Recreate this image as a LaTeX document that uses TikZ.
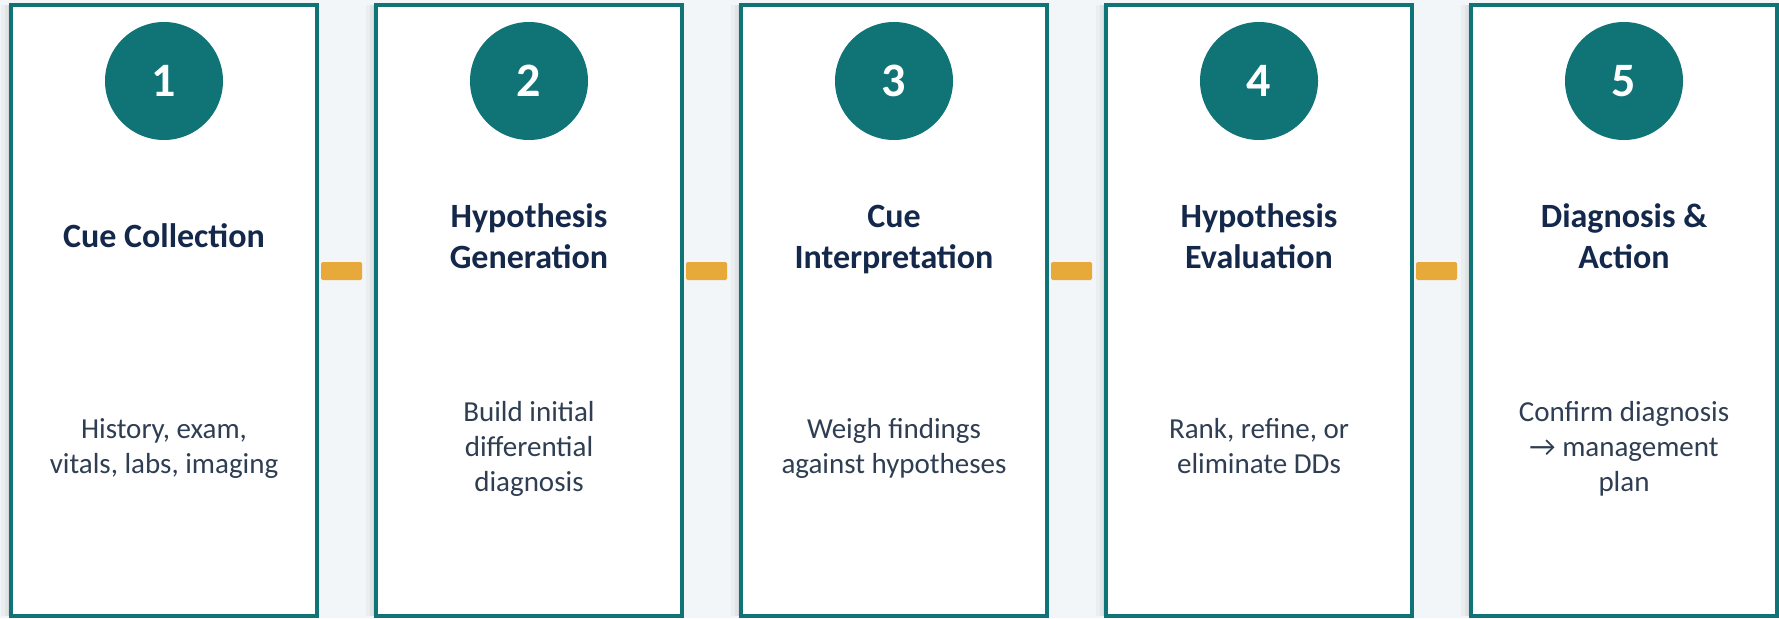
\documentclass[tikz,border=0pt]{standalone}
\usepackage{fontspec}
\setmainfont{Carlito}
\usetikzlibrary{shadows}

\definecolor{stepTeal}{HTML}{107375}
\definecolor{pageBg}{HTML}{F3F6F9}
\definecolor{linkGold}{HTML}{E8A93B}
\definecolor{headNavy}{HTML}{13284A}
\definecolor{bodyGrey}{HTML}{2F3E52}

\begin{document}
\begin{tikzpicture}
[x=1pt,y=-1pt,
  boxDecorate/.style={shape=rectangle,draw=stepTeal,line width=3.5pt,fill=white,
    minimum width=306pt,minimum height=611pt,inner sep=0pt,
    drop shadow={shadow xshift=-3pt,shadow yshift=0pt,opacity=.06,fill=black},
    drop shadow={shadow xshift=-6pt,shadow yshift=0pt,opacity=.04,fill=black},
    drop shadow={shadow xshift=-10pt,shadow yshift=0pt,opacity=.03,fill=black}},%
  numDecorate/.style={shape=circle,fill=stepTeal,minimum size=118pt,inner sep=0pt,
    text=white,font=\fontsize{48}{48}\selectfont\bfseries},%
  titleDecorate/.style={align=center,text=headNavy,
    font=\fontsize{34}{41}\selectfont\bfseries},%
  bodyDecorate/.style={align=center,text=bodyGrey,
    font=\fontsize{29}{35}\selectfont},%
  linkDecorate/.style={shape=rectangle,fill=linkGold,rounded corners=1.5pt,
    minimum width=41pt,minimum height=18pt,inner sep=0pt}]
\useasboundingbox (0,0) rectangle (1779,618);
\fill[pageBg] (0,0) rectangle (1779,618);
%% step panels
\foreach \n/\x/\head/\body in {
  1/164/{Cue Collection}/{History, exam,\\vitals, labs, imaging},
  2/529/{Hypothesis\\Generation}/{Build initial\\differential\\diagnosis},
  3/894/{Cue\\Interpretation}/{Weigh findings\\against hypotheses},
  4/1259/{Hypothesis\\Evaluation}/{Rank, refine, or\\eliminate DDs},
  5/1624/{Diagnosis \&\\Action}/{Confirm diagnosis\\→ management\\plan}}
{
  \node (box\n) at (\x,310.5) [boxDecorate] {};
  \node (num\n) at (\x,81) [numDecorate] {\n};
  \node (title\n) at (\x,239.5) [titleDecorate] {\strut\head\strut};
  \node (body\n) at (\x,449) [bodyDecorate] {\strut\body\strut};
}
%% gold links between panels
\foreach \n/\x in {1/341.5, 2/706.5, 3/1071.5, 4/1436.5}
{
  \node (link\n) at (\x,271) [linkDecorate] {};
}
\end{tikzpicture}
\end{document}
